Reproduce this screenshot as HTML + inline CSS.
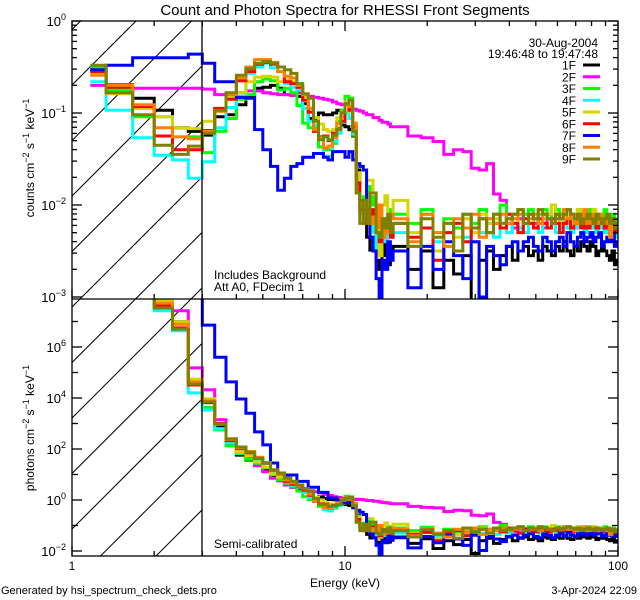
<!DOCTYPE html>
<html><head><meta charset="utf-8">
<style>
html,body{margin:0;padding:0;background:#fff;}
svg{display:block;}
text{font-family:"Liberation Sans",sans-serif;fill:#000;}
</style></head>
<body>
<svg id="chart" width="640" height="600" viewBox="0 0 640 600" xmlns="http://www.w3.org/2000/svg">
<rect x="0" y="0" width="640" height="600" fill="#fff"/>
<defs>
<clipPath id="clipTop"><rect x="72" y="21" width="546" height="278"/></clipPath>
<clipPath id="clipBot"><rect x="72" y="299" width="546" height="257"/></clipPath>
<clipPath id="clipHatch"><rect x="72" y="21" width="130" height="535"/></clipPath>
</defs>
<g id="hatch" clip-path="url(#clipHatch)"></g>
<g id="seriesTop" clip-path="url(#clipTop)"></g>
<g id="seriesBot" clip-path="url(#clipBot)"></g>
<g id="axes"></g>
<text x="345" y="15" font-size="15" text-anchor="middle">Count and Photon Spectra for RHESSI Front Segments</text>
<text x="598" y="47" font-size="12" text-anchor="end">30-Aug-2004</text>
<text x="598" y="58" font-size="12" text-anchor="end">19:46:48 to 19:47:48</text>
<g id="legend"></g>
<text x="214" y="279" font-size="12">Includes Background</text>
<text x="214" y="291" font-size="12">Att A0, FDecim 1</text>
<text x="214" y="548" font-size="12">Semi-calibrated</text>
<text x="345" y="587" font-size="12" text-anchor="middle">Energy (keV)</text>
<text x="1" y="594" font-size="11">Generated by hsi_spectrum_check_dets.pro</text>
<text x="637" y="594" font-size="11" text-anchor="end">3-Apr-2024 22:09</text>
<text transform="translate(34,158) rotate(-90)" font-size="12" text-anchor="middle">counts cm<tspan dy="-5" font-size="9">−2</tspan><tspan dy="5"> s</tspan><tspan dy="-5" font-size="9">−1</tspan><tspan dy="5"> keV</tspan><tspan dy="-5" font-size="9">−1</tspan></text>
<text transform="translate(34,428) rotate(-90)" font-size="12" text-anchor="middle">photons cm<tspan dy="-5" font-size="9">−2</tspan><tspan dy="5"> s</tspan><tspan dy="-5" font-size="9">−1</tspan><tspan dy="5"> keV</tspan><tspan dy="-5" font-size="9">−1</tspan></text>
</svg>
<script>
// ---- data (log10 values) ----
const detectors = ["1F","2F","3F","4F","5F","6F","7F","8F","9F"];
const detColors = ["#000000","#ff00ff","#00ff00","#00ffff","#d4d400","#ff0000","#0000ff","#ff8000","#808000"];
// counts, bins 1.17-15 keV (1/3 keV wide)
const cLow1F=[-0.53,-0.72,-0.84,-0.97,-1.16,-1.20,-1.24,-1.04,-1.02,-0.91,-0.83,-0.73,-0.72,-0.70,-0.73,-0.80,-0.79,-0.82,-0.90,-1.06,-1.06,-1.00,-1.02,-1.02,-1.00,-0.97,-1.13,-1.15,-1.18,-1.25,-1.62,-1.95,-2.05,-2.35,-2.49,-2.35,-2.60,-2.70,-2.40,-2.55,-2.65,-2.50];
const cLow2F=[-0.70,-0.69,-0.73,-0.73,-0.73,-0.73,-0.74,-0.80,-0.80,-0.78,-0.76,-0.76,-0.78,-0.79,-0.80,-0.80,-0.81,-0.78,-0.80,-0.82,-0.83,-0.84,-0.85,-0.86,-0.88,-0.90,-0.91,-0.90,-0.94,-0.96,-0.97,-0.98,-1.00,-1.02,-1.02,-1.05,-1.05,-1.08,-1.10,-1.10,-1.12,-1.15];
const cLow3F=[-0.50,-0.75,-1.04,-1.04,-1.26,-1.26,-1.43,-1.20,-1.06,-0.85,-0.80,-0.66,-0.63,-0.65,-0.75,-0.73,-0.78,-0.92,-1.11,-1.16,-1.16,-1.37,-1.40,-1.40,-1.33,-1.09,-0.97,-0.82,-0.84,-1.24,-1.84,-1.98,-1.91,-1.80,-1.91,-2.00,-2.20,-2.10,-2.25,-2.15,-2.20,-2.05];
const cLow4F=[-0.66,-0.97,-1.27,-1.46,-1.51,-1.71,-1.53,-1.16,-0.94,-0.82,-0.57,-0.50,-0.46,-0.51,-0.55,-0.68,-0.72,-0.75,-0.95,-1.09,-1.13,-1.26,-1.47,-1.47,-1.31,-1.22,-1.10,-1.00,-1.06,-1.22,-1.80,-2.09,-2.13,-2.02,-2.13,-2.30,-2.50,-2.20,-2.35,-2.40,-2.20,-2.30];
const cLow5F=[-0.57,-0.79,-0.95,-1.04,-1.16,-1.17,-1.09,-0.98,-0.82,-0.78,-0.66,-0.61,-0.60,-0.61,-0.66,-0.64,-0.66,-0.72,-0.82,-0.95,-1.05,-1.12,-1.18,-1.20,-1.18,-1.05,-1.04,-0.88,-0.98,-1.15,-1.65,-2.02,-1.98,-1.73,-1.73,-1.87,-2.10,-2.55,-2.00,-1.90,-2.30,-2.15];
const cLow6F=[-0.55,-0.72,-0.93,-1.25,-1.40,-1.40,-1.19,-0.95,-0.85,-0.65,-0.55,-0.47,-0.45,-0.47,-0.50,-0.66,-0.68,-0.72,-0.86,-0.99,-1.20,-1.26,-1.25,-1.30,-1.22,-1.17,-1.09,-0.90,-0.97,-1.15,-1.76,-2.05,-2.20,-2.05,-2.13,-2.05,-2.30,-2.40,-2.20,-2.30,-2.15,-2.35];
const cLow7F=[-0.53,-0.48,-0.40,-0.40,-0.40,-0.36,-0.46,-0.66,-0.66,-0.83,-0.84,-1.18,-1.40,-1.58,-1.84,-1.71,-1.58,-1.55,-1.48,-1.48,-1.44,-1.44,-1.48,-1.51,-1.42,-1.42,-1.42,-1.48,-1.42,-1.51,-1.55,-1.58,-1.62,-1.98,-2.35,-2.50,-2.80,-3.20,-2.60,-2.70,-2.40,-2.60];
const cLow8F=[-0.59,-0.70,-0.91,-1.16,-1.26,-1.28,-1.20,-0.98,-0.80,-0.62,-0.50,-0.42,-0.42,-0.45,-0.55,-0.60,-0.62,-0.70,-0.80,-0.95,-1.18,-1.27,-1.38,-1.36,-1.27,-1.11,-0.99,-0.91,-0.93,-1.11,-1.87,-2.02,-2.13,-1.98,-2.20,-2.13,-2.25,-2.00,-2.35,-2.20,-2.30,-2.10];
const cLow9F=[-0.48,-0.78,-1.02,-1.35,-1.45,-1.36,-1.22,-0.97,-0.78,-0.59,-0.52,-0.46,-0.44,-0.46,-0.50,-0.53,-0.57,-0.68,-0.79,-0.84,-1.09,-1.29,-1.26,-1.29,-1.24,-1.18,-1.00,-0.90,-0.86,-1.20,-1.87,-2.20,-1.95,-2.20,-1.87,-1.87,-2.30,-2.35,-2.15,-2.25,-2.10,-2.30];
// counts, bins 15-101 keV (2 keV wide)
const cHigh1F=[-2.45,-2.7,-2.5,-2.9,-2.6,-2.75,-2.55,-3.1,-2.6,-2.5,-2.7,-2.55,-2.45,-2.6,-2.5,-2.45,-2.55,-2.5,-2.6,-2.45,-2.5,-2.55,-2.45,-2.5,-2.4,-2.5,-2.55,-2.45,-2.5,-2.4,-2.45,-2.5,-2.4,-2.45,-2.55,-2.5,-2.45,-2.5,-2.55,-2.6,-2.5,-2.65,-2.6];
const cHigh2F=[-1.15,-1.25,-1.27,-1.31,-1.45,-1.40,-1.42,-1.60,-1.62,-1.55,-1.88,-1.95,-2.2,-2.25,-2.15,-2.2,-2.1,-2.2,-2.15,-2.25,-2.1,-2.2,-2.15,-2.1,-2.2,-2.15,-2.1,-2.2,-2.15,-2.2,-2.25,-2.15,-2.2,-2.1,-2.2,-2.15,-2.2,-2.25,-2.2,-2.15,-2.2,-2.3,-2.25];
const cHigh3F=[-2.1,-2.2,-2.05,-2.3,-2.15,-2.25,-2.1,-2.2,-2.05,-2.15,-2.1,-2.0,-2.15,-2.1,-2.05,-2.1,-2.05,-2.15,-2.1,-2.05,-2.1,-2.15,-2.05,-2.1,-2.1,-2.05,-2.15,-2.1,-2.05,-2.1,-2.15,-2.1,-2.05,-2.15,-2.1,-2.1,-2.15,-2.05,-2.1,-2.15,-2.1,-2.2,-2.15];
const cHigh4F=[-2.3,-2.45,-2.25,-2.4,-2.3,-2.5,-2.35,-2.25,-2.3,-2.2,-2.35,-2.25,-2.3,-2.2,-2.25,-2.3,-2.2,-2.25,-2.3,-2.2,-2.25,-2.2,-2.3,-2.25,-2.2,-2.25,-2.3,-2.2,-2.25,-2.2,-2.3,-2.25,-2.2,-2.25,-2.3,-2.25,-2.2,-2.3,-2.25,-2.3,-2.2,-2.35,-2.3];
const cHigh5F=[-1.95,-2.3,-2.1,-2.5,-2.2,-2.35,-2.15,-2.3,-2.1,-2.2,-2.15,-2.25,-2.1,-2.2,-2.05,-2.15,-2.2,-2.1,-2.05,-2.15,-2.1,-2.0,-2.1,-2.2,-2.1,-2.05,-2.15,-2.1,-2.05,-2.15,-2.1,-2.2,-2.1,-2.05,-2.15,-2.1,-2.2,-2.15,-2.1,-2.2,-2.15,-2.2,-2.25];
const cHigh6F=[-2.2,-2.35,-2.25,-2.6,-2.3,-2.2,-2.4,-2.25,-2.15,-2.3,-2.2,-2.25,-2.1,-2.2,-2.3,-2.15,-2.2,-2.25,-2.15,-2.2,-2.25,-2.15,-2.2,-2.3,-2.2,-2.15,-2.25,-2.2,-2.15,-2.25,-2.2,-2.25,-2.15,-2.2,-2.25,-2.2,-2.15,-2.25,-2.2,-2.25,-2.2,-2.3,-2.25];
const cHigh7F=[-2.5,-2.9,-2.45,-2.7,-2.4,-2.55,-2.8,-2.4,-3.0,-2.45,-2.55,-2.65,-2.45,-2.4,-2.5,-2.4,-2.35,-2.45,-2.5,-2.35,-2.4,-2.5,-2.4,-2.35,-2.45,-2.3,-2.4,-2.45,-2.35,-2.3,-2.4,-2.35,-2.3,-2.4,-2.35,-2.3,-2.45,-2.4,-2.35,-2.4,-2.3,-2.45,-2.4];
const cHigh8F=[-2.15,-2.4,-2.1,-2.3,-2.45,-2.15,-2.25,-2.1,-2.35,-2.15,-2.2,-2.1,-2.2,-2.15,-2.1,-2.2,-2.15,-2.1,-2.2,-2.1,-2.15,-2.2,-2.1,-2.15,-2.05,-2.15,-2.1,-2.2,-2.1,-2.15,-2.05,-2.2,-2.1,-2.15,-2.2,-2.1,-2.15,-2.2,-2.1,-2.35,-2.15,-2.25,-2.2];
const cHigh9F=[-2.2,-2.45,-2.15,-2.35,-2.2,-2.5,-2.1,-2.25,-2.15,-2.3,-2.1,-2.2,-2.15,-2.1,-2.05,-2.2,-2.1,-2.15,-2.05,-2.1,-2.15,-2.2,-2.1,-2.15,-2.1,-2.05,-2.1,-2.15,-2.1,-2.2,-2.15,-2.1,-2.15,-2.2,-2.1,-2.15,-2.2,-2.15,-2.1,-2.2,-2.15,-2.25,-2.2];
// log10 photon/count conversion (semi-calibrated), common and detector 7F
const convLow=[10.5,10.0,9.6,8.88,8.15,5.91,5.06,3.95,3.18,2.67,2.40,2.10,1.89,1.64,1.55,1.39,1.30,1.27,1.24,1.18,1.15,1.12,1.08,1.04,1.01,1.00,0.98,0.97,0.96,0.98,1.00,1.00,1.00,1.00,1.00,1.00,1.00,1.00,1.00,1.00,1.00,1.00];
const convHigh=[1.0,1.0,0.98,1.0,1.0,1.0,1.0,1.0,1.0,1.0,1.0,1.0,1.0,1.0,1.0,1.0,1.0,1.0,1.0,1.0,1.0,1.0,1.0,1.0,1.0,1.0,1.0,1.0,1.0,1.0,1.0,1.0,1.0,1.0,1.0,1.0,1.0,1.0,1.0,1.0,1.0,1.0,1.0];
const conv7Low=[12,12,12,12,12,12,7.32,6.26,5.29,4.79,4.24,3.85,3.56,3.03,2.89,2.69,2.56,2.28,2.21,1.98,1.94,1.74,1.78,1.59,1.50,1.38,1.38,1.38,1.32,1.20,1.15,1.10,1.05,1.02,1.02,1.02,1.02,1.02,1.02,1.02,1.02,1.02];
const conv7High=[1.02,1.02,1.02,1.02,1.02,1.02,1.02,1.02,1.02,1.02,1.02,1.02,1.02,1.02,1.02,1.02,1.02,1.02,1.02,1.02,1.02,1.02,1.02,1.02,1.02,1.02,1.02,1.02,1.02,1.02,1.02,1.02,1.02,1.02,1.02,1.02,1.02,1.02,1.02,1.02,1.02,1.02,1.02];
const topTickLabels=["0","−1","−2","−3"];
const topTickExps=[0,-1,-2,-3];
const botTickLabels=["6","4","2","0","−2"];
const botTickExps=[6,4,2,0,-2];
const xTickLabels=["1","10","100"];
const xTickVals=[1,10,100];

// ---- axis functions ----
const NS="http://www.w3.org/2000/svg";
const X0=72,X1=618,DEC=273;
function xs(e){return X0+DEC*Math.log10(e);}
function yTop(l){return 21-92*l;}
function yBot(l){return 500-25.5*l;}
function mk(tag,attrs,parent){const el=document.createElementNS(NS,tag);for(const k in attrs)el.setAttribute(k,attrs[k]);parent.appendChild(el);return el;}

// bin edges
const edges=[7/6];
for(let k=4;k<=45;k++)edges.push(k/3);
for(let e=17;e<=101;e+=2)edges.push(e);

const cLow=[cLow1F,cLow2F,cLow3F,cLow4F,cLow5F,cLow6F,cLow7F,cLow8F,cLow9F];
const cHigh=[cHigh1F,cHigh2F,cHigh3F,cHigh4F,cHigh5F,cHigh6F,cHigh7F,cHigh8F,cHigh9F];

function histPath(vals,yf){
  let d="";
  for(let i=0;i<vals.length;i++){
    const y=Math.max(-50,Math.min(700,yf(vals[i])));
    const xa=xs(edges[i]),xb=xs(edges[i+1]);
    if(i===0)d+="M"+xa.toFixed(1)+" "+y.toFixed(1);else d+="V"+y.toFixed(1);
    d+="H"+xb.toFixed(1);
  }
  return d;
}

const gT=document.getElementById("seriesTop"),gB=document.getElementById("seriesBot");
for(let s=0;s<9;s++){
  const counts=cLow[s].concat(cHigh[s]);
  const cv=(s===6)?conv7Low.concat(conv7High):convLow.concat(convHigh);
  const photons=counts.map((v,i)=>v+cv[i]);
  const p1=mk("path",{d:histPath(counts,yTop),fill:"none",stroke:detColors[s],"stroke-width":"3","stroke-linejoin":"miter"},gT);
  
  
  const p2=mk("path",{d:histPath(photons,yBot),fill:"none",stroke:detColors[s],"stroke-width":"3","stroke-linejoin":"miter"},gB);
  
  
}

// hatch
const gH=document.getElementById("hatch");
for(let k=-3;k<14;k++){
  const c=157+55.5*k;
  const ln=mk("line",{x1:c-21,y1:21,x2:c-600,y2:600,stroke:"#000","stroke-width":"1"},gH);
  
  
}

// axes
const gA=document.getElementById("axes");
function line(x1,y1,x2,y2,name){const l=mk("line",{x1:x1,y1:y1,x2:x2,y2:y2,stroke:"#000","stroke-width":"1.3"},gA);return l;}
mk("rect",{x:X0,y:21,width:X1-X0,height:535,fill:"none",stroke:"#000","stroke-width":"1.3"},gA);
line(X0,299,X1,299,'panel-divider');
line(202,21,202,556,'threshold-line');
// x ticks
for(let dec=0;dec<3;dec++){
  for(let m=1;m<=9;m++){
    const e=m*Math.pow(10,dec);if(e>100)break;
    const x=xs(e);const L=(m===1)?10:5;
    line(x,21,x,21+L,'x-tick-top');
    line(x,299,x,299-L,'x-tick-mid');
    line(x,556,x,556-L,'x-tick-bottom');
  }
}
xTickVals.forEach((v,i)=>{const t=mk("text",{x:xs(v),y:570,"font-size":"12","text-anchor":"middle"},gA);t.textContent=xTickLabels[i];});
// top y ticks
for(let d=-3;d<=0;d++){
  for(let m=1;m<=9;m++){
    const l=d+Math.log10(m);if(l>0)break;
    const y=yTop(l);const L=(m===1)?10:5;
    line(X0,y,X0+L,y,'y-tick-top-left');line(X1,y,X1-L,y,'y-tick-top-right');
  }
}
topTickExps.forEach((e,i)=>{const t=mk("text",{x:66,y:yTop(e)+5,"font-size":"13","text-anchor":"end"},gA);
  
  const a=mk("tspan",{},t);a.textContent="10";const b=mk("tspan",{dy:"-6","font-size":"9"},t);b.textContent=topTickLabels[i];});
// bottom y ticks
for(let d=-2;d<=7;d++){
  const y=yBot(d);const L=(d%2===0)?10:6;
  line(X0,y,X0+L,y,'y-tick-bottom-left');line(X1,y,X1-L,y,'y-tick-bottom-right');
}
botTickExps.forEach((e,i)=>{const t=mk("text",{x:66,y:yBot(e)+5,"font-size":"13","text-anchor":"end"},gA);
  
  const a=mk("tspan",{},t);a.textContent="10";const b=mk("tspan",{dy:"-6","font-size":"9"},t);b.textContent=botTickLabels[i];});

// legend
const gL=document.getElementById("legend");
detectors.forEach((d,i)=>{
  const y=65+11.75*i;
  const t=mk("text",{x:576,y:y+4.5,"font-size":"12","text-anchor":"end"},gL);t.textContent=d;
  
  
  const l=mk("line",{x1:583,y1:y,x2:600,y2:y,stroke:detColors[i],"stroke-width":"3"},gL);
  
  
});
</script>
</body></html>
